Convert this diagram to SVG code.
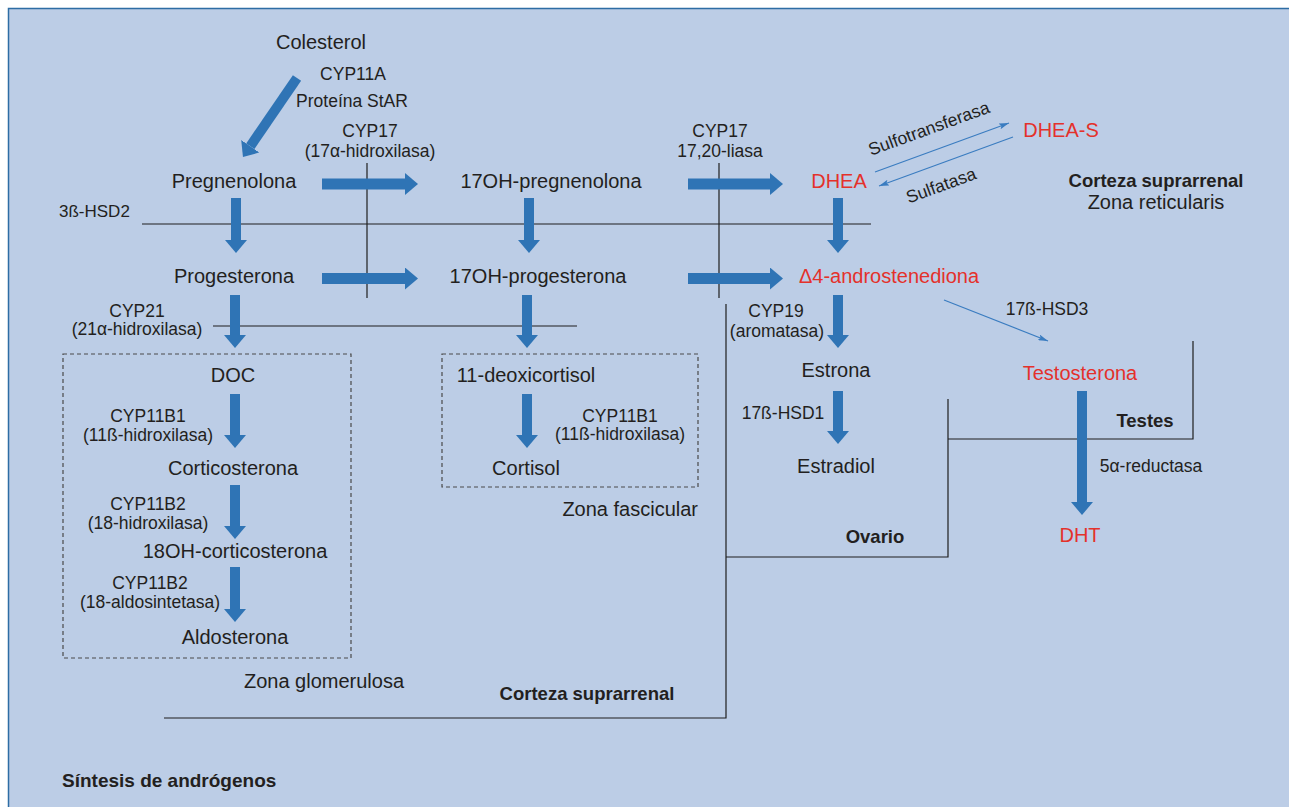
<svg xmlns="http://www.w3.org/2000/svg" width="1289" height="807" viewBox="0 0 1289 807">
  <style>
    text { font-family: "Liberation Sans", Arial, sans-serif; fill: #231f20; }
    .big { font-size: 20px; }
    .lbl { font-size: 17.5px; }
    .bold { font-size: 18.5px; font-weight: bold; }
    .red { fill: #e4312b; }
    .mid { text-anchor: middle; }
    .end { text-anchor: end; }
    .rule { stroke: #1f1f1f; stroke-width: 1.2; fill: none; }
    .dash { stroke: #4a4a4a; stroke-width: 1.2; fill: none; stroke-dasharray: 4 3; }
    .flow { stroke: #2f74b5; stroke-width: 10; marker-end: url(#head); }
    .flowh { stroke: #2f74b5; stroke-width: 11; marker-end: url(#head); }
    .thin { stroke: #3a7cc0; stroke-width: 1.2; marker-end: url(#thinhead); }
  </style>
  <defs>
    <marker id="head" viewBox="0 0 13 22" refX="0" refY="11" markerWidth="13" markerHeight="22" markerUnits="userSpaceOnUse" orient="auto">
      <path d="M0,0 L13,11 L0,22 Z" fill="#2f74b5"/>
    </marker>
    <marker id="thinhead" viewBox="0 0 10 6" refX="10" refY="3" markerWidth="10" markerHeight="6" markerUnits="userSpaceOnUse" orient="auto">
      <path d="M0,0 L10,3 L0,6 L2,3 Z" fill="#3a7cc0"/>
    </marker>
  </defs>

  <!-- panel -->
  <rect x="0" y="0" width="1289" height="807" fill="#ffffff"/>
  <rect x="8.5" y="8.5" width="1290" height="810" fill="#bccde6" stroke="#2e6da4" stroke-width="1.5"/>

  <!-- zone boundaries and enzyme rules -->
  <g id="zone-lines">
    <line class="rule" x1="142" y1="224" x2="871" y2="224"/>
    <line class="rule" x1="367" y1="163" x2="367" y2="298"/>
    <line class="rule" x1="719" y1="163" x2="719" y2="298"/>
    <line class="rule" x1="213" y1="326" x2="577" y2="326"/>
    <polyline class="rule" points="164,718 726,718 726,304"/>
    <polyline class="rule" points="726,557 948,557 948,399"/>
    <polyline class="rule" points="948,439 1193,439 1193,341"/>
    <rect class="dash" x="63" y="354" width="288" height="304"/>
    <rect class="dash" x="442" y="354" width="256" height="133"/>
  </g>

  <!-- connectors -->
  <g id="connectors">
    <line class="flow" x1="297" y1="78" x2="250.3" y2="146.3"/>
    <line class="flowh" x1="322" y1="184" x2="405" y2="184"/>
    <line class="flowh" x1="322" y1="278.5" x2="405" y2="278.5"/>
    <line class="flowh" x1="688" y1="184" x2="770" y2="184"/>
    <line class="flowh" x1="688" y1="278.5" x2="770" y2="278.5"/>
    <line class="flow" x1="236" y1="198" x2="236" y2="240"/>
    <line class="flow" x1="529" y1="198" x2="529" y2="240"/>
    <line class="flow" x1="838" y1="198" x2="838" y2="240"/>
    <line class="flow" x1="235" y1="295" x2="235" y2="335"/>
    <line class="flow" x1="527" y1="295" x2="527" y2="335"/>
    <line class="flow" x1="838" y1="295" x2="838" y2="335"/>
    <line class="flow" x1="235" y1="394" x2="235" y2="435"/>
    <line class="flow" x1="235" y1="485" x2="235" y2="526"/>
    <line class="flow" x1="235" y1="567" x2="235" y2="609"/>
    <line class="flow" x1="527" y1="394" x2="527" y2="435"/>
    <line class="flow" x1="838" y1="391" x2="838" y2="431"/>
    <line class="flow" x1="1082" y1="391" x2="1082" y2="502"/>
    <line class="thin" x1="875" y1="172" x2="1009" y2="123"/>
    <line class="thin" x1="1013" y1="137" x2="879" y2="186"/>
    <line class="thin" x1="944" y1="300" x2="1048" y2="341"/>
  </g>

  <!-- enzyme labels -->
  <g id="enzymes">
    <text class="lbl mid" x="353" y="80">CYP11A</text>
    <text class="lbl mid" x="352" y="107">Proteína StAR</text>
    <text class="lbl mid" x="370" y="137">CYP17</text>
    <text class="lbl mid" x="370" y="157">(17α-hidroxilasa)</text>
    <text class="lbl mid" x="720" y="137">CYP17</text>
    <text class="lbl mid" x="720" y="157">17,20-liasa</text>
    <text class="lbl" x="59" y="217" style="font-size:17px">3ß-HSD2</text>
    <text class="lbl mid" x="137" y="317">CYP21</text>
    <text class="lbl mid" x="137" y="335">(21α-hidroxilasa)</text>
    <text class="lbl mid" x="148" y="422">CYP11B1</text>
    <text class="lbl mid" x="148" y="441">(11ß-hidroxilasa)</text>
    <text class="lbl mid" x="148" y="510">CYP11B2</text>
    <text class="lbl mid" x="148" y="529">(18-hidroxilasa)</text>
    <text class="lbl mid" x="150" y="589">CYP11B2</text>
    <text class="lbl mid" x="150" y="608">(18-aldosintetasa)</text>
    <text class="lbl mid" x="620" y="422">CYP11B1</text>
    <text class="lbl mid" x="620" y="440">(11ß-hidroxilasa)</text>
    <text class="lbl mid" x="776" y="317">CYP19</text>
    <text class="lbl mid" x="777" y="337">(aromatasa)</text>
    <text class="lbl mid" x="783" y="419">17ß-HSD1</text>
    <text class="lbl mid" x="1047" y="315">17ß-HSD3</text>
    <text class="lbl mid" x="1151" y="472">5α-reductasa</text>
    <text class="lbl mid" transform="translate(931,134) rotate(-20)">Sulfotransferasa</text>
    <text class="lbl mid" transform="translate(943,191) rotate(-20)">Sulfatasa</text>
  </g>

  <!-- steroid nodes -->
  <g id="colesterol"><text class="big mid" x="321" y="49">Colesterol</text></g>
  <g id="pregnenolona"><text class="big mid" x="234" y="188">Pregnenolona</text></g>
  <g id="progesterona"><text class="big mid" x="234" y="283">Progesterona</text></g>
  <g id="oh17-pregnenolona"><text class="big mid" x="551" y="188">17OH-pregnenolona</text></g>
  <g id="oh17-progesterona"><text class="big mid" x="538" y="283">17OH-progesterona</text></g>
  <g id="dhea"><text class="big mid red" x="839" y="188">DHEA</text></g>
  <g id="dhea-s"><text class="big mid red" x="1061" y="137">DHEA-S</text></g>
  <g id="androstenediona"><text class="big mid red" x="889" y="283">Δ4-androstenediona</text></g>
  <g id="doc"><text class="big mid" x="233" y="382">DOC</text></g>
  <g id="corticosterona"><text class="big mid" x="233" y="475">Corticosterona</text></g>
  <g id="oh18-corticosterona"><text class="big mid" x="235" y="558">18OH-corticosterona</text></g>
  <g id="aldosterona"><text class="big mid" x="235" y="644">Aldosterona</text></g>
  <g id="deoxicortisol"><text class="big mid" x="526" y="382">11-deoxicortisol</text></g>
  <g id="cortisol"><text class="big mid" x="526" y="475">Cortisol</text></g>
  <g id="estrona"><text class="big mid" x="836" y="377">Estrona</text></g>
  <g id="estradiol"><text class="big mid" x="836" y="473">Estradiol</text></g>
  <g id="testosterona"><text class="big mid red" x="1080" y="380">Testosterona</text></g>
  <g id="dht"><text class="big mid red" x="1080" y="542">DHT</text></g>

  <!-- zone captions -->
  <g id="zones">
    <text class="bold mid" x="1156" y="187">Corteza suprarrenal</text>
    <text class="big mid" x="1156" y="209">Zona reticularis</text>
    <text class="big mid" x="324" y="688">Zona glomerulosa</text>
    <text class="big end" x="698" y="516">Zona fascicular</text>
    <text class="bold mid" x="587" y="700">Corteza suprarrenal</text>
    <text class="bold mid" x="875" y="543">Ovario</text>
    <text class="bold mid" x="1145" y="427">Testes</text>
    <text class="bold" x="62" y="787" style="font-size:19px">Síntesis de andrógenos</text>
  </g>
</svg>
